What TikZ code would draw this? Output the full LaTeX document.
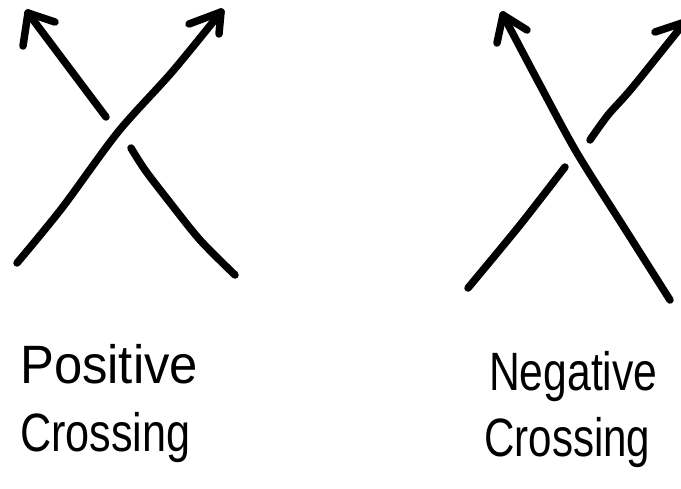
\documentclass[tikz,border=0pt]{standalone}
\usepackage{fontspec}
\setmainfont{Liberation Sans}
\begin{document}
\begin{tikzpicture}[x=1pt,y=-1pt,
  strand/.style={line width=7.5pt,line cap=round,line join=round,black},
  label/.style={font=\fontsize{54}{60}\selectfont,anchor=base west,inner sep=0pt,transform shape}]
\useasboundingbox (0,0) rectangle (681,488);
% ---------- positive crossing ----------
\coordinate (p1s) at (17,263);
\coordinate (p1m) at (118,132);
\coordinate (p1t) at (221,12);
\coordinate (p2s) at (235,275);
\coordinate (p2a) at (131,148);
\coordinate (p2b) at (106,117);
\coordinate (p2t) at (28,13);
\draw[strand] plot[smooth] coordinates {(p1s) (62,208) (p1m) (172,72) (p1t)};
\draw[strand] (p1t) -- (189,24);
\draw[strand] (p1t) -- (219,34);
\draw[strand] plot[smooth] coordinates {(p2s) (200,240) (168,200) (145,170) (p2a)};
\draw[strand] (p2b) -- (p2t);
\draw[strand] (p2t) -- (23,46);
\draw[strand] (p2t) -- (55,22);
% ---------- negative crossing ----------
\coordinate (n1s) at (670,300);
\coordinate (n1m) at (577,153);
\coordinate (n1t) at (503,15);
\coordinate (n2s) at (468,288);
\coordinate (n2a) at (565,167);
\coordinate (n2b) at (590,140);
\coordinate (n2t) at (685,22);
\draw[strand] plot[smooth] coordinates {(n1s) (625,229) (n1m) (540,85) (n1t)};
\draw[strand] (n1t) -- (497,43);
\draw[strand] (n1t) -- (527,30);
\draw[strand] plot[smooth] coordinates {(n2s) (520,225) (n2a)};
\draw[strand] plot[smooth] coordinates {(n2b) (608,115) (632,88) (n2t)};
\draw[strand] (n2t) -- (655,32);
% ---------- labels ----------
\node[label,xscale=0.94] (pos1) at (20,383) {Positive};
\node[label,xscale=0.80] (pos2) at (20,451) {Crossing};
\node[label,xscale=0.79] (neg1) at (489,390) {Negative};
\node[label,xscale=0.78] (neg2) at (484,456) {Crossing};
\end{tikzpicture}
\end{document}
